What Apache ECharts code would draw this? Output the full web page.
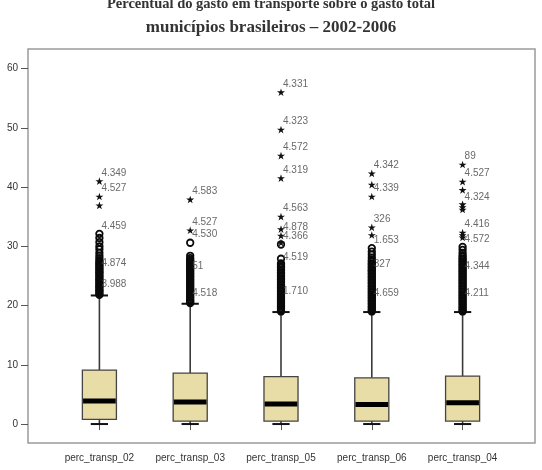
<!DOCTYPE html>
<html>
<head>
<meta charset="utf-8">
<script src="https://cdn.jsdelivr.net/npm/echarts@6/dist/echarts.min.js"></script>
<style>
  html, body { margin: 0; padding: 0; background: #ffffff; }
  #chart { width: 542px; height: 470px; }
</style>
</head>
<body>
<div id="chart"></div>
<script>
// ---------- data ----------
const categories = ['perc_transp_02', 'perc_transp_03', 'perc_transp_05', 'perc_transp_06', 'perc_transp_04'];
const lowWhisker  = [0, 0, 0, 0, 0];
const q1          = [0.8, 0.5, 0.5, 0.5, 0.5];
const median      = [3.9, 3.7, 3.4, 3.3, 3.6];
const q3          = [9.1, 8.6, 8.0, 7.8, 8.1];
const highWhisker = [21.7, 20.3, 18.9, 18.9, 18.9];
const yTicks = [0, 10, 20, 30, 40, 50, 60];

// extreme values (stars)
const extremes02 = [41.0, 38.4, 36.9];
const extremes03 = [37.9, 32.7];
const extremes05 = [56.0, 49.7, 45.3, 41.5, 35.0, 32.9, 31.8, 30.6];
const extremes06 = [42.3, 40.4, 38.4, 33.2, 31.9];
const extremes04 = [43.8, 40.9, 39.5, 37.1, 36.6, 36.2, 32.3, 31.9, 31.5];

// outliers (circles)
const outliers02 = [32.1, 31.4, 30.7, 30.0, 29.5, 28.9, 28.4, 28.0, 27.6, 27.3, 27.1, 26.8, 26.6, 26.3, 26.1, 25.8, 25.6, 25.4, 25.1, 24.9, 24.6, 24.4, 24.2, 23.9, 23.7, 23.4, 23.2, 23.0, 22.7, 22.5, 22.3, 22.0, 21.8];
const outliers03 = [30.6, 28.4, 28.0, 27.7, 27.5, 27.3, 27.0, 26.8, 26.5, 26.3, 26.0, 25.8, 25.5, 25.3, 25.0, 24.8, 24.5, 24.3, 24.0, 23.8, 23.5, 23.3, 23.0, 22.8, 22.5, 22.3, 22.0, 21.8, 21.5, 21.3, 21.0, 20.8, 20.6, 20.4];
const outliers05 = [30.3, 27.9, 27.1, 26.9, 26.6, 26.4, 26.1, 25.9, 25.6, 25.4, 25.1, 24.9, 24.6, 24.4, 24.1, 23.9, 23.6, 23.4, 23.1, 22.9, 22.6, 22.4, 22.1, 21.9, 21.6, 21.4, 21.1, 20.9, 20.6, 20.4, 20.1, 19.9, 19.6, 19.4, 19.2, 19.0];
const outliers06 = [29.7, 29.1, 28.6, 28.1, 27.7, 27.4, 27.1, 26.9, 26.6, 26.4, 26.1, 25.9, 25.7, 25.4, 25.2, 24.9, 24.7, 24.4, 24.2, 23.9, 23.7, 23.4, 23.2, 22.9, 22.7, 22.4, 22.2, 21.9, 21.7, 21.4, 21.2, 20.9, 20.7, 20.4, 20.2, 19.9, 19.7, 19.4, 19.2, 19.0];
const outliers04 = [29.9, 29.4, 28.9, 28.5, 28.2, 27.9, 27.7, 27.4, 27.2, 26.9, 26.7, 26.4, 26.2, 25.9, 25.7, 25.4, 25.2, 24.9, 24.7, 24.4, 24.2, 23.9, 23.7, 23.4, 23.2, 22.9, 22.7, 22.4, 22.2, 21.9, 21.7, 21.4, 21.2, 20.9, 20.7, 20.4, 20.2, 19.9, 19.7, 19.4, 19.2, 19.0];

// case labels: [value, text]
const caseLabels02 = [[41.0, '4.349'], [38.4, '4.527'], [32.1, '4.459'], [25.8, '4.874'], [22.3, '3.988']];
const caseLabels03 = [[37.9, '4.583'], [32.7, '4.527'], [30.6, '4.530'], [25.3, '51'], [20.8, '4.518']];
const caseLabels05 = [[56.0, '4.331'], [49.7, '4.323'], [45.3, '4.572'], [41.5, '4.319'], [35.0, '4.563'], [31.8, '4.878'], [30.3, '4.366'], [26.8, '4.519'], [21.0, '1.710']];
const caseLabels06 = [[42.3, '4.342'], [38.4, '4.339'], [33.2, '326'], [29.7, '1.653'], [25.7, '327'], [20.8, '4.659']];
const caseLabels04 = [[43.8, '89'], [40.9, '4.527'], [37.0, '4.324'], [32.4, '4.416'], [29.8, '4.572'], [25.3, '4.344'], [20.8, '4.211']];

// ---------- build series data ----------
const extremesByCat = [extremes02, extremes03, extremes05, extremes06, extremes04];
const outliersByCat = [outliers02, outliers03, outliers05, outliers06, outliers04];
const labelsByCat = [caseLabels02, caseLabels03, caseLabels05, caseLabels06, caseLabels04];

const boxData = categories.map((c, i) => [i, lowWhisker[i], q1[i], median[i], q3[i], highWhisker[i]]);
const starData = [];
extremesByCat.forEach((arr, i) => arr.forEach(v => starData.push([i, v])));
const circleData = [];
outliersByCat.forEach((arr, i) => arr.forEach(v => circleData.push([i, v])));
const labelData = [];
labelsByCat.forEach((arr, i) => arr.forEach(d => labelData.push({ value: [i, d[0]], name: d[1] })));

const starPath = 'path://M0,-10L2.245,-3.09L9.51,-3.09L3.633,1.18L5.88,8.09L0,3.82L-5.88,8.09L-3.633,1.18L-9.51,-3.09L-2.245,-3.09Z';

const chart = echarts.init(document.getElementById('chart'));
chart.setOption({
  backgroundColor: '#ffffff',
  animation: false,
  title: {
    text: '{a|Percentual do gasto em transporte sobre o gasto total}\n{b|municípios brasileiros – 2002-2006}',
    left: 'center',
    top: -13,
    textStyle: {
      rich: {
        a: { fontFamily: 'Liberation Serif', fontWeight: 'bold', fontSize: 14.5, lineHeight: 24, color: '#333333' },
        b: { fontFamily: 'Liberation Serif', fontWeight: 'bold', fontSize: 17, lineHeight: 24, color: '#333333' }
      }
    }
  },
  grid: [
    { left: 28, right: 7, top: 49, bottom: 27, show: true, borderColor: '#9a9a9a', borderWidth: 1.5, backgroundColor: '#ffffff' },
    { left: 54, right: 34, top: 49, bottom: 27, show: false }
  ],
  xAxis: [
    { gridIndex: 0, type: 'value', show: false },
    {
      gridIndex: 1, type: 'category', data: categories, boundaryGap: true,
      axisLine: { show: false },
      axisTick: { show: true, alignWithLabel: true, length: 6, lineStyle: { color: '#555555', width: 1 } },
      axisLabel: { fontFamily: 'Liberation Sans', fontSize: 10, color: '#333333', margin: 10 },
      splitLine: { show: false }
    }
  ],
  yAxis: [
    { gridIndex: 0, type: 'value', show: false },
    {
      gridIndex: 1, type: 'value', min: -3.2, max: 63.3, offset: 26,
      axisLine: { show: false },
      axisTick: { show: true, length: 7, customValues: yTicks, lineStyle: { color: '#555555', width: 1 } },
      axisLabel: { customValues: yTicks, fontFamily: 'Liberation Sans', fontSize: 10, color: '#333333', margin: 10 },
      splitLine: { show: false }
    }
  ],
  series: [
    {
      type: 'custom',
      xAxisIndex: 1, yAxisIndex: 1,
      data: boxData,
      encode: { x: 0, y: [1, 2, 3, 4, 5] },
      z: 2,
      renderItem: function (params, api) {
        const x = api.value(0);
        const lo = api.coord([x, api.value(1)]);
        const p1 = api.coord([x, api.value(2)]);
        const pm = api.coord([x, api.value(3)]);
        const p3 = api.coord([x, api.value(4)]);
        const hi = api.coord([x, api.value(5)]);
        const band = api.size([1, 0])[0];
        const bw = band * 0.375;
        const cw = band * 0.19;
        const cx = lo[0];
        return {
          type: 'group',
          children: [
            { type: 'line', shape: { x1: cx, y1: hi[1], x2: cx, y2: p3[1] }, style: { stroke: '#3a3a3a', lineWidth: 1.6 } },
            { type: 'line', shape: { x1: cx, y1: p1[1], x2: cx, y2: lo[1] }, style: { stroke: '#3a3a3a', lineWidth: 1.6 } },
            { type: 'line', shape: { x1: cx - cw / 2, y1: hi[1], x2: cx + cw / 2, y2: hi[1] }, style: { stroke: '#111111', lineWidth: 2 } },
            { type: 'line', shape: { x1: cx - cw / 2, y1: lo[1], x2: cx + cw / 2, y2: lo[1] }, style: { stroke: '#111111', lineWidth: 2 } },
            { type: 'rect', shape: { x: cx - bw / 2, y: p3[1], width: bw, height: p1[1] - p3[1] }, style: { fill: '#E9DDA7', stroke: '#444444', lineWidth: 1.3 } },
            { type: 'line', shape: { x1: cx - bw / 2 + 0.7, y1: pm[1], x2: cx + bw / 2 - 0.7, y2: pm[1] }, style: { stroke: '#000000', lineWidth: 5 } }
          ]
        };
      }
    },
    {
      type: 'scatter', xAxisIndex: 1, yAxisIndex: 1, z: 3,
      data: circleData,
      symbol: 'circle', symbolSize: 6.5,
      itemStyle: { color: 'rgba(0,0,0,0)', borderColor: '#0a0a0a', borderWidth: 1.8, opacity: 1 }
    },
    {
      type: 'scatter', xAxisIndex: 1, yAxisIndex: 1, z: 3,
      data: starData,
      symbol: starPath, symbolSize: 8, symbolKeepAspect: true,
      itemStyle: { color: '#111111', opacity: 1 }
    },
    {
      type: 'scatter', xAxisIndex: 1, yAxisIndex: 1, z: 4,
      data: labelData,
      symbolSize: 0,
      itemStyle: { color: 'rgba(0,0,0,0)' },
      label: {
        show: true, position: 'right', distance: 2, offset: [0, -8],
        formatter: function (p) { return p.name; },
        fontFamily: 'Liberation Sans', fontSize: 10, color: '#444444'
      }
    }
  ]
});
</script>
</body>
</html>
